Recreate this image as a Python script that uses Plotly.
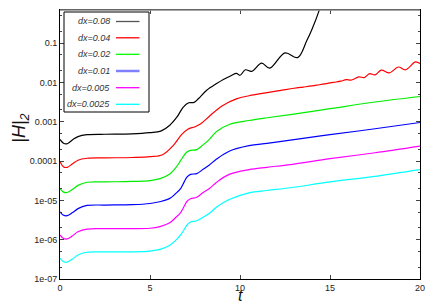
import plotly.graph_objects as go

# ---- data (log10 of |H|_2) ----
t_smooth = [0, 0.2, 0.4, 0.7, 1.0, 1.5, 2.5, 4.0, 5.0, 5.6, 6.1, 6.4, 6.7, 6.9, 7.05, 7.25,
            7.6, 7.95, 8.3, 8.7, 9.4, 10.5, 11.5, 12.8, 15, 17.5, 20]

log_dx0025 = [-6.47, -6.56, -6.57, -6.49, -6.39, -6.32, -6.31, -6.31, -6.29, -6.24, -6.14,
              -6.03, -5.88, -5.74, -5.63, -5.55, -5.52, -5.43, -5.33, -5.17, -4.98, -4.81,
              -4.75, -4.68, -4.53, -4.39, -4.22]
log_dx005 = [-5.88, -5.97, -5.98, -5.90, -5.80, -5.73, -5.72, -5.72, -5.71, -5.66, -5.57,
             -5.45, -5.31, -5.15, -5.03, -4.96, -4.92, -4.80, -4.70, -4.54, -4.34, -4.22,
             -4.16, -4.09, -3.94, -3.79, -3.62]
log_dx01 = [-5.29, -5.38, -5.39, -5.31, -5.21, -5.13, -5.12, -5.11, -5.08, -5.03, -4.95,
            -4.84, -4.70, -4.53, -4.41, -4.34, -4.32, -4.21, -4.10, -3.95, -3.75, -3.61,
            -3.55, -3.47, -3.33, -3.18, -3.02]
log_dx02 = [-4.70, -4.79, -4.80, -4.72, -4.62, -4.54, -4.53, -4.52, -4.50, -4.44, -4.33,
            -4.19, -3.99, -3.85, -3.77, -3.73, -3.71, -3.59, -3.45, -3.25, -3.07, -2.97,
            -2.90, -2.82, -2.67, -2.50, -2.36]

t_dx04 = [0, 0.2, 0.4, 0.7, 1.0, 1.5, 2.5, 4.0, 5.0, 5.7, 6.3, 6.75, 7.1, 7.5, 7.8, 8.3,
          9.0, 9.8, 10.5, 11.5, 12.2, 13.0, 13.5, 14.0, 14.4, 14.8, 15.2, 15.6, 15.9,
          16.2, 16.6, 16.9, 17.2, 17.5, 17.85, 18.3, 18.8, 19.2, 19.75, 20]
log_dx04 = [-4.02, -4.15, -4.16, -4.07, -3.98, -3.93, -3.92, -3.91, -3.89, -3.84, -3.60,
            -3.33, -3.19, -3.13, -3.06, -2.86, -2.60, -2.42, -2.34, -2.26, -2.21, -2.15,
            -2.12, -2.09, -2.06, -2.03, -2.00, -1.97, -1.93, -1.94, -1.86, -1.88, -1.78,
            -1.81, -1.69, -1.76, -1.61, -1.68, -1.48, -1.52]

t_dx08 = [0, 0.2, 0.4, 0.7, 1.0, 1.5, 2.5, 4.0, 5.0, 5.6, 6.1, 6.5, 6.85, 7.15, 7.45, 7.7,
          8.15, 8.7, 9.1, 9.5, 9.8, 10.0, 10.3, 10.65, 11.2, 11.65, 12.5, 13.2, 13.7, 14.0,
          14.4, 14.7]
log_dx08 = [-3.45, -3.55, -3.56, -3.46, -3.38, -3.33, -3.32, -3.31, -3.28, -3.24, -3.09,
            -2.88, -2.63, -2.52, -2.51, -2.41, -2.20, -2.03, -1.92, -1.83, -1.77, -1.82,
            -1.68, -1.72, -1.51, -1.64, -1.25, -1.37, -0.95, -0.65, -0.17, 0.30]

labels = ["dx=0.08", "dx=0.04", "dx=0.02", "dx=0.01", "dx=0.005", "dx=0.0025"]
colors = ["#000000", "#ff0000", "#00ee00", "#0000ff", "#ff00ff", "#00ffff"]
legend_colors = ["#555555", "#ff0000", "#00ff00", "#8080ff", "#ff00ff", "#00ffff"]

series = [
    (t_dx08, log_dx08),
    (t_dx04, log_dx04),
    (t_smooth, log_dx02),
    (t_smooth, log_dx01),
    (t_smooth, log_dx005),
    (t_smooth, log_dx0025),
]

y_tickvals = [1e-7, 1e-6, 1e-5, 1e-4, 1e-3, 1e-2, 1e-1]
y_ticktext = ["1e-07", "1e-06", "1e-05", "0.0001", "0.001", "0.01", "0.1"]
x_tickvals = [0, 5, 10, 15, 20]

fig = go.Figure()
for (tt, lv), name, c in zip(series, labels, colors):
    fig.add_trace(go.Scatter(
        x=tt, y=[10 ** v for v in lv], mode="lines", name=name,
        line=dict(color=c, width=1.2, shape="spline", smoothing=1.0),
        showlegend=False,
    ))

font_tick = dict(family="Liberation Sans, Arial, sans-serif", size=9, color="#222222")

# the page body adds an 8px offset, so the figure is 8px smaller than the window.
# plot area in window pixels: x 60..420, y 10..279
fig.update_layout(
    width=428, height=297,
    margin=dict(l=52, r=16, t=2, b=26),
    paper_bgcolor="white", plot_bgcolor="white",
    xaxis=dict(range=[0, 20], tickvals=x_tickvals, ticks="inside", ticklen=4,
               showline=True, linecolor="black", linewidth=1, mirror="allticks",
               showgrid=False, zeroline=False, tickfont=font_tick),
    yaxis=dict(type="log", range=[-7, -0.16], tickvals=y_tickvals, ticktext=y_ticktext,
               ticks="inside", ticklen=4, showline=True, linecolor="black", linewidth=1,
               mirror="allticks", showgrid=False, zeroline=False, tickfont=font_tick,
               minor=dict(ticks="inside", ticklen=2, dtick="D2", showgrid=False)),
)

# top border in grey
fig.add_shape(type="line", xref="paper", yref="paper", x0=0, x1=1, y0=1, y1=1,
              line=dict(color="#888888", width=1.5))

# axis titles
fig.add_annotation(text="<i>|H|</i><sub><i>2</i></sub>", xref="paper", yref="paper",
                   x=-0.11, y=0.56, xanchor="center", yanchor="middle", textangle=-90,
                   showarrow=False,
                   font=dict(family="Liberation Sans, Arial, sans-serif", size=18, color="#111111"))
fig.add_annotation(text="<i>t</i>", xref="paper", yref="paper", x=0.5, y=-0.0967,
                   yanchor="bottom", borderpad=0, showarrow=False,
                   font=dict(family="Liberation Sans, Arial, sans-serif", size=16, color="#111111"))

# manual legend (text on the left, sample line on the right); positions in window pixels
def px2x(px):
    return (px - 60) / 360.0

def py2y(py):
    return (279 - py) / 269.0

fig.add_shape(type="rect", xref="paper", yref="paper",
              x0=px2x(64), x1=px2x(149), y0=py2y(112), y1=py2y(12),
              line=dict(color="black", width=1), fillcolor="white", layer="above")
row_y = [21.5, 37.8, 54.3, 71, 87.7, 104.3]
for name, c, ry in zip(labels, legend_colors, row_y):
    fig.add_annotation(text="<i>" + name + "</i>", xref="paper", yref="paper",
                       x=px2x(112), y=py2y(ry), xanchor="right", yanchor="middle",
                       showarrow=False,
                       font=dict(family="Liberation Sans, Arial, sans-serif", size=9,
                                 color="#333333"))
    fig.add_shape(type="line", xref="paper", yref="paper",
                  x0=px2x(116), x1=px2x(139.5), y0=py2y(ry), y1=py2y(ry),
                  line=dict(color=c, width=2.5 if c == "#8080ff" else 1.3), layer="above")

fig.write_html("out.html")
